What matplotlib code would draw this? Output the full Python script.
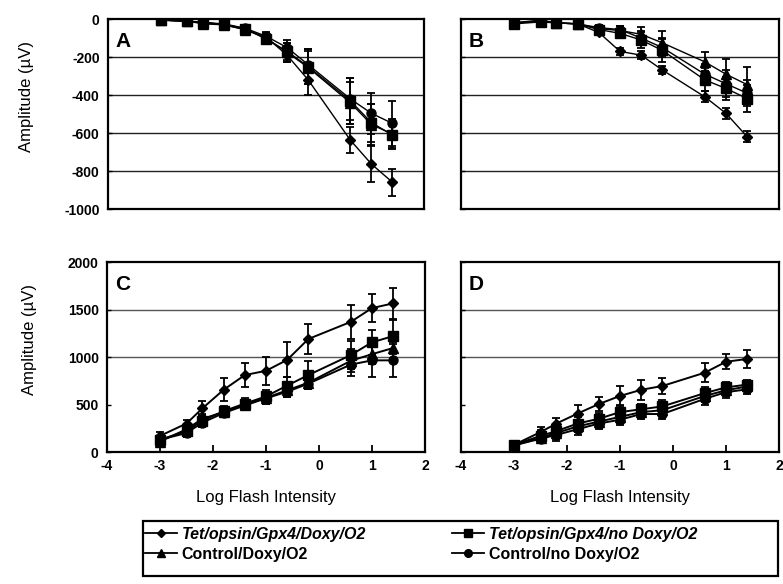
import numpy as np
import matplotlib
matplotlib.use("Agg")
import matplotlib.pyplot as plt
from matplotlib.lines import Line2D
from matplotlib.patches import Rectangle

plt.rcParams['font.family'] = ['Liberation Sans', 'DejaVu Sans']
plt.rcParams['axes.unicode_minus'] = False

# log flash intensities
x = [-3.0, -2.5, -2.2, -1.8, -1.4, -1.0, -0.6, -0.2, 0.6, 1.0, 1.4]

# Panel A
a_tet_doxy = [-5, -12, -15, -30, -55, -95, -190, -320, -637, -763, -859]
a_tet_doxy_err = [5, 8, 10, 10, 12, 20, 35, 80, 70, 95, 70]
a_tet_nodoxy = [-5, -12, -20, -28, -50, -105, -170, -250, -430, -545, -610]
a_tet_nodoxy_err = [5, 10, 20, 10, 12, 25, 45, 90, 120, 100, 70]
a_ctl_doxy = [-5, -10, -25, -30, -55, -100, -175, -255, -440, -555, -605]
a_ctl_doxy_err = [5, 10, 25, 10, 15, 25, 50, 85, 110, 110, 80]
a_ctl_nodoxy = [-5, -10, -18, -25, -48, -90, -150, -240, -420, -496, -549]
a_ctl_nodoxy_err = [5, 8, 10, 10, 12, 20, 40, 80, 110, 108, 118]

# Panel B
b_tet_doxy = [-20, -10, -20, -25, -70, -170, -190, -268, -409, -496, -619]
b_tet_doxy_err = [8, 8, 8, 10, 15, 20, 20, 22, 30, 28, 30]
b_tet_nodoxy = [-25, -15, -20, -25, -55, -75, -110, -165, -320, -365, -418]
b_tet_nodoxy_err = [10, 10, 8, 10, 20, 25, 40, 60, 60, 60, 70]
b_ctl_doxy = [-20, -10, -20, -25, -50, -60, -80, -125, -225, -290, -345]
b_ctl_doxy_err = [10, 10, 8, 10, 20, 25, 40, 60, 50, 80, 95]
b_ctl_nodoxy = [-20, -5, -20, -25, -45, -55, -100, -150, -290, -340, -390]
b_ctl_nodoxy_err = [10, 10, 8, 10, 15, 20, 35, 50, 55, 70, 70]

# Panel C
c_tet_doxy = [170, 300, 460, 655, 810, 855, 970, 1190, 1370, 1515, 1565]
c_tet_doxy_err = [40, 40, 80, 120, 130, 150, 185, 160, 180, 145, 165]
c_tet_nodoxy = [130, 220, 330, 430, 510, 585, 700, 810, 1020, 1155, 1220]
c_tet_nodoxy_err = [40, 40, 60, 50, 60, 70, 90, 150, 150, 130, 170]
c_ctl_doxy = [110, 240, 350, 420, 500, 570, 650, 730, 960, 1030, 1095]
c_ctl_doxy_err = [40, 40, 50, 40, 50, 60, 70, 60, 120, 100, 60]
c_ctl_nodoxy = [130, 200, 310, 410, 490, 565, 635, 720, 920, 965, 965]
c_ctl_nodoxy_err = [40, 40, 50, 40, 50, 60, 60, 60, 120, 170, 170]

# Panel D
d_tet_doxy = [75, 210, 300, 405, 505, 590, 655, 695, 835, 950, 980]
d_tet_doxy_err = [20, 50, 60, 95, 75, 105, 105, 80, 100, 80, 95]
d_tet_nodoxy = [75, 170, 220, 300, 350, 420, 450, 480, 620, 680, 710]
d_tet_nodoxy_err = [20, 60, 70, 70, 60, 70, 60, 70, 60, 60, 50]
d_ctl_doxy = [70, 150, 200, 270, 320, 370, 420, 440, 590, 650, 690]
d_ctl_doxy_err = [20, 50, 60, 60, 60, 60, 60, 60, 60, 60, 50]
d_ctl_nodoxy = [70, 140, 180, 240, 300, 340, 400, 400, 560, 630, 660]
d_ctl_nodoxy_err = [20, 50, 60, 60, 60, 60, 50, 50, 60, 60, 50]

labels = ['Tet/opsin/Gpx4/Doxy/O2', 'Tet/opsin/Gpx4/no Doxy/O2',
          'Control/Doxy/O2', 'Control/no Doxy/O2']
markers = ['D', 's', '^', 'o']
msizes = [5.5, 6.5, 7, 6.5]

panels = [
    ('A', [a_tet_doxy, a_tet_nodoxy, a_ctl_doxy, a_ctl_nodoxy],
     [a_tet_doxy_err, a_tet_nodoxy_err, a_ctl_doxy_err, a_ctl_nodoxy_err]),
    ('B', [b_tet_doxy, b_tet_nodoxy, b_ctl_doxy, b_ctl_nodoxy],
     [b_tet_doxy_err, b_tet_nodoxy_err, b_ctl_doxy_err, b_ctl_nodoxy_err]),
    ('C', [c_tet_doxy, c_tet_nodoxy, c_ctl_doxy, c_ctl_nodoxy],
     [c_tet_doxy_err, c_tet_nodoxy_err, c_ctl_doxy_err, c_ctl_nodoxy_err]),
    ('D', [d_tet_doxy, d_tet_nodoxy, d_ctl_doxy, d_ctl_nodoxy],
     [d_tet_doxy_err, d_tet_nodoxy_err, d_ctl_doxy_err, d_ctl_nodoxy_err]),
]

positions = {
    'A': [0.138, 0.642, 0.4036, 0.3253],
    'B': [0.5888, 0.642, 0.406, 0.3253],
    'C': [0.1367, 0.226, 0.406, 0.3253],
    'D': [0.5888, 0.226, 0.406, 0.3253],
}

fig = plt.figure(figsize=(7.83, 5.84), dpi=100)

for name, series, errs in panels:
    ax = fig.add_axes(positions[name])
    top = name in ('A', 'B')
    lw = 1.0 if top else 1.4
    for ys, es, m, ms in zip(series, errs, markers, msizes):
        ax.errorbar(x, ys, yerr=es, color='black', marker=m, markersize=ms,
                    lw=lw, elinewidth=1.3, capsize=2.6, capthick=1.3, zorder=3)
    ax.set_xlim(-4, 2)
    ax.set_xticks(range(-4, 3))
    if top:
        ax.set_ylim(-1000, 0)
        ax.set_yticks(range(-1000, 1, 200))
        for g in range(-800, 0, 200):
            ax.axhline(g, color='#222222', lw=1.0, zorder=1)
        ax.tick_params(axis='x', length=0, labelbottom=False)
    else:
        ax.set_ylim(0, 2000)
        ax.set_yticks(range(0, 2001, 500))
        for g in (1000, 1500):
            ax.axhline(g, color='#555555', lw=1.0, zorder=1)
        ax.tick_params(axis='x', direction='in', length=5, width=1.3,
                       labelsize=10, pad=5)
        for t in ax.get_xticklabels():
            t.set_fontweight('bold')
        ax.set_xlabel('Log Flash Intensity', fontsize=12, labelpad=12)
    ax.tick_params(axis='y', direction='in', length=3, width=1, labelsize=10, pad=6)
    if name in ('A', 'C'):
        for t in ax.get_yticklabels():
            t.set_fontweight('bold')
        ax.set_ylabel('Amplitude (\u00b5V)', fontsize=12, labelpad=22, y=0.59)
    else:
        ax.tick_params(axis='y', labelleft=False)
    for s in ax.spines.values():
        s.set_linewidth(1.6)
    ax.text(0.025, 0.93, name, transform=ax.transAxes, fontsize=15,
            fontweight='bold', va='top', ha='left')

# legend box drawn separately so the columns can sit where they should
W, H = 783.0, 584.0
fig.patches.append(Rectangle((143 / W, 1 - 576 / H), 635 / W, 55 / H,
                             transform=fig.transFigure, fill=False,
                             edgecolor='black', lw=1.6))
handles = [Line2D([], [], color='black', marker=m, markersize=ms - 1, lw=1.3)
           for m, ms in zip(markers, msizes)]
order = [0, 2, 1, 3]
leg = fig.legend([handles[i] for i in order], [labels[i] for i in order],
                 loc='upper left', bbox_to_anchor=(145 / W, 1 - 527 / H),
                 ncol=2, frameon=False, handlelength=2.0, handletextpad=0.3,
                 borderaxespad=0, labelspacing=0.3, borderpad=0,
                 columnspacing=5.4, prop={'weight': 'bold', 'size': 11.5})
for t in leg.get_texts():
    if t.get_text().startswith('Tet'):
        t.set_style('italic')

fig.savefig('out.png', dpi=100)
